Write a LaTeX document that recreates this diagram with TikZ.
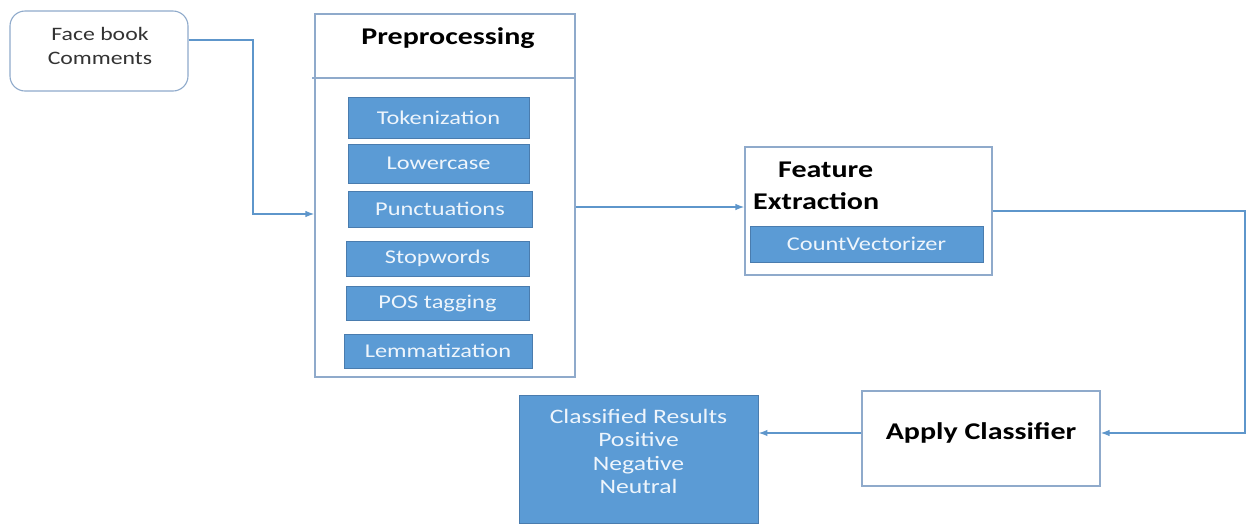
\documentclass[tikz,border=0pt]{standalone}
\usepackage{fontspec}
\setmainfont[FakeStretch=1.25]{Carlito}
\usetikzlibrary{arrows.meta}
\definecolor{edgeblue}{HTML}{8FAACB}
\definecolor{linkblue}{HTML}{5E96CB}
\definecolor{fillblue}{HTML}{5B9BD5}
\definecolor{darkedge}{HTML}{4A7CAE}
\definecolor{paletext}{HTML}{EEF5FC}
\tikzset{
  frame/.style={draw=edgeblue, line width=1.1pt, fill=white, inner sep=0pt},
  stepbox/.style={draw=darkedge, line width=0.9pt, fill=fillblue, inner sep=0pt,
    text=paletext, font=\fontsize{19.5}{22}\selectfont},
  title/.style={font=\fontsize{24}{27}\selectfont\bfseries, text=black, inner sep=0pt},
  conn/.style={draw=linkblue, line width=1.4pt, -{Latex[length=9pt,width=6.5pt]}},
}
\begin{document}
\begin{tikzpicture}[x=1pt,y=-1pt]
\useasboundingbox (0,0) rectangle (1248,523);

% input
\node[frame, rounded corners=15pt, minimum width=178pt, minimum height=80pt] (fb) at (99,51) {};
\node[align=center, text=black!80, inner sep=0pt, font=\fontsize{19}{24}\selectfont]
      (fbtxt) at (100,46) {Face book\\Comments};

% preprocessing stage
\node[frame, minimum width=260pt, minimum height=363pt] (pre) at (445,195.5) {};
\draw[edgeblue, line width=1.1pt] (312,78) -- (pre.east |- 0,78);
\node[title] (pretitle) at (448,38) {Preprocessing};
\node[stepbox, minimum width=181pt, minimum height=41pt] (tok) at (438.5,117.5) {Tokenization};
\node[stepbox, minimum width=181pt, minimum height=39pt] (low) at (438.5,163.5) {Lowercase};
\node[stepbox, minimum width=184pt, minimum height=36pt] (pun) at (440,209) {Punctuations};
\node[stepbox, minimum width=183pt, minimum height=35pt] (stp) at (437.5,258.5) {Stopwords};
\node[stepbox, minimum width=183pt, minimum height=34pt] (pos) at (437.5,303) {POS tagging};
\node[stepbox, minimum width=188pt, minimum height=34pt] (lem) at (438,351) {Lemmatization};

% feature extraction stage
\node[frame, minimum width=247pt, minimum height=128pt] (feat) at (868.5,211) {};
\node[title, anchor=west] (feat1) at (778,170) {Feature};
\node[title, anchor=west] (feat2) at (753,201) {Extraction};
\node[stepbox, minimum width=233pt, minimum height=36pt] (cv) at (866.5,244) {CountVectorizer};

% classifier and results
\node[frame, minimum width=238pt, minimum height=95pt] (apply) at (981,438.5) {};
\node[title] (applytxt) at (981,433) {Apply Classifier};
\node[stepbox, minimum width=239pt, minimum height=128pt] (res) at (638.5,459) {};
\node[text=paletext, align=center, inner sep=0pt, anchor=north,
      font=\fontsize{20.5}{23.3}\selectfont] (restxt) at (638.5,409)
      {Classified Results\\Positive\\Negative\\Neutral};

% connectors
\coordinate (b1) at (253,40);
\coordinate (b2) at (1245,211);
\draw[conn] (fb.east |- b1) -- (b1) |- (pre.west |- 0,214);
\draw[conn] (pre.east |- 0,207) -- (feat.west |- 0,207);
\draw[conn] (feat.east |- b2) -- (b2) |- (apply.east |- 0,433);
\draw[conn] (apply.west |- 0,433) -- (res.east |- 0,433);
\end{tikzpicture}
\end{document}
